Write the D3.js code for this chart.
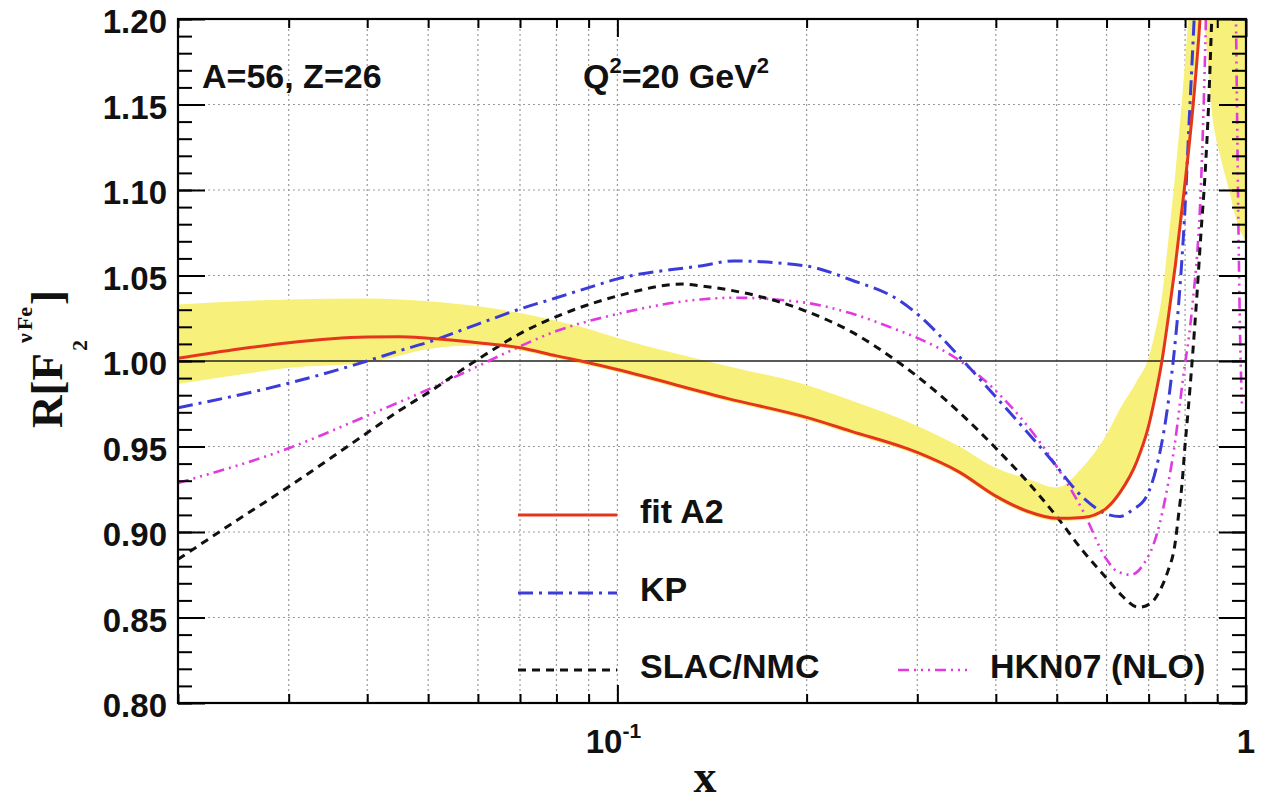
<!DOCTYPE html>
<html>
<head>
<meta charset="utf-8">
<script src="https://cdn.jsdelivr.net/npm/d3@7"></script>
<style>
  body { margin: 0; background: #fff; }
  text { font-weight: bold; fill: #111; }
  .sans { font-family: "Liberation Sans", Arial, Helvetica, sans-serif; }
  .serif { font-family: "Liberation Serif", "Times New Roman", serif; }
</style>
</head>
<body>
<svg id="chart" width="1262" height="802"></svg>
<script>
// ---------------- data ----------------
// fit A2 central curve
const fitX = [0.02, 0.025, 0.03, 0.04, 0.045, 0.05, 0.06, 0.07, 0.08, 0.09, 0.1, 0.15, 0.2, 0.235, 0.3, 0.35, 0.4, 0.45, 0.5, 0.55, 0.6, 0.63, 0.67, 0.7, 0.714, 0.735, 0.752, 0.772, 0.794, 0.824, 0.845, 0.87];
const fitY = [1.0016, 1.007, 1.0107, 1.014, 1.0142, 1.0133, 1.0107, 1.0078, 1.003, 0.999, 0.995, 0.978, 0.967, 0.959, 0.9465, 0.935, 0.921, 0.912, 0.908, 0.9085, 0.914, 0.923, 0.941, 0.962, 0.976, 1.0, 1.025, 1.056, 1.094, 1.15, 1.20, 1.29];

// fit A2 uncertainty band
const bandX    = [0.02, 0.025, 0.03, 0.04, 0.045, 0.05, 0.06, 0.07, 0.08, 0.09, 0.1, 0.15, 0.2, 0.235, 0.3, 0.35, 0.4, 0.45, 0.5, 0.55, 0.6, 0.63, 0.67, 0.7, 0.714, 0.735, 0.752, 0.772, 0.794, 0.824, 0.84, 0.852, 0.865, 0.88, 0.91, 0.94, 0.97, 1.0];
const bandLow  = [0.9865, 0.992, 0.996, 0.999, 1.003, 1.007, 1.009, 1.0063, 1.0015, 0.9975, 0.9935, 0.9765, 0.9655, 0.9575, 0.945, 0.9335, 0.9195, 0.9105, 0.9065, 0.907, 0.9125, 0.9215, 0.9395, 0.9605, 0.9745, 0.9985, 1.0235, 1.0545, 1.0925, 1.1485, 1.185, 1.205, 1.185, 1.15, 1.12, 1.10, 1.08, 1.07];
const bandHigh = [1.033, 1.035, 1.036, 1.0365, 1.036, 1.035, 1.032, 1.028, 1.0234, 1.0187, 1.0135, 0.997, 0.986, 0.977, 0.962, 0.950, 0.9374, 0.931, 0.926, 0.938, 0.957, 0.972, 0.988, 1.002, 1.014, 1.038, 1.07, 1.11, 1.16, 1.24, 1.28, 1.32, 1.36, 1.40, 1.45, 1.50, 1.55, 1.60];

// KP
const kpX = [0.02, 0.03, 0.04, 0.045, 0.05, 0.06, 0.07, 0.08, 0.09, 0.1, 0.1355, 0.153, 0.2, 0.235, 0.282, 0.3, 0.351, 0.4, 0.488, 0.551, 0.6, 0.63, 0.66, 0.695, 0.72, 0.749, 0.766, 0.78, 0.791, 0.80, 0.812, 0.827, 0.86];
const kpY = [0.9727, 0.987, 1.0, 1.006, 1.011, 1.0216, 1.0304, 1.037, 1.0429, 1.048, 1.0556, 1.0585, 1.0555, 1.0475, 1.035, 1.0275, 1.002, 0.979, 0.943, 0.92, 0.9105, 0.909, 0.913, 0.921, 0.9375, 0.971, 1.0, 1.03, 1.06, 1.09, 1.14, 1.2, 1.35];

// SLAC/NMC
const slacX = [0.02, 0.0245, 0.03, 0.04, 0.045, 0.05, 0.06, 0.07, 0.08, 0.09, 0.1, 0.1273, 0.1355, 0.2, 0.2346, 0.2818, 0.3, 0.35, 0.4, 0.45, 0.5, 0.55, 0.6, 0.63, 0.675, 0.7036, 0.73, 0.751, 0.771, 0.78, 0.791, 0.80, 0.809, 0.821, 0.836, 0.848, 0.861, 0.872, 0.882, 0.9];
const slacY = [0.884, 0.9055, 0.9265, 0.958, 0.971, 0.9815, 1.001, 1.016, 1.026, 1.033, 1.038, 1.045, 1.044, 1.029, 1.0175, 0.9985, 0.991, 0.970, 0.949, 0.929, 0.909, 0.889, 0.873, 0.864, 0.856, 0.858, 0.866, 0.877, 0.893, 0.908, 0.928, 0.951, 0.971, 1.0, 1.04, 1.075, 1.11, 1.15, 1.2, 1.3];

// HKN07 (NLO)
const hknX = [0.02, 0.03, 0.04, 0.0486, 0.0577, 0.0676, 0.08, 0.1, 0.1355, 0.153, 0.2, 0.2346, 0.2818, 0.3, 0.351, 0.4, 0.488, 0.551, 0.6, 0.6236, 0.6557, 0.6867, 0.7218, 0.7516, 0.7715, 0.7856, 0.794, 0.815, 0.824, 0.836, 0.845, 0.858, 0.87, 0.9, 0.95, 0.964, 0.971, 0.978, 0.985];
const hknY = [0.9287, 0.949, 0.968, 0.9813, 0.994, 1.006, 1.0175, 1.0275, 1.036, 1.037, 1.034, 1.028, 1.0175, 1.0135, 1.0, 0.9825, 0.944, 0.912, 0.884, 0.877, 0.875, 0.881, 0.899, 0.928, 0.953, 0.976, 0.99, 1.02, 1.037, 1.062, 1.09, 1.16, 1.25, 1.45, 1.40, 1.2, 1.1, 1.02, 0.975];

const seriesNames = ["fit A2", "KP", "SLAC/NMC", "HKN07 (NLO)"];

// axis ticks and labels
const yMajorTicks = [0.80, 0.85, 0.90, 0.95, 1.00, 1.05, 1.10, 1.15, 1.20];
const yMinorTicks = d3.range(80, 121).map(v => v / 100);
const xMajorTicks = [0.1, 1];
const xMajorBase  = ["10", "1"];
const xMajorExp   = ["-1", ""];
const xMinorTicks = [0.02, 0.03, 0.04, 0.05, 0.06, 0.07, 0.08, 0.09, 0.2, 0.3, 0.4, 0.5, 0.6, 0.7, 0.8, 0.9];
const yGridValues = [0.85, 0.90, 0.95, 1.05, 1.10, 1.15];
const xGridValues = [0.03, 0.04, 0.05, 0.06, 0.07, 0.08, 0.09, 0.1, 0.2, 0.3, 0.4, 0.5, 0.6, 0.7, 0.8, 0.9];

// ---------------- layout ----------------
const svg = d3.select("#chart");
const m = { l: 178, r: 1246, t: 19, b: 703 };

const x = d3.scaleLog().domain([0.02, 1]).range([m.l, m.r]);
const y = d3.scaleLinear().domain([0.80, 1.20]).range([m.b, m.t]);

svg.append("defs").append("clipPath").attr("id", "plotClip")
  .append("rect").attr("x", m.l).attr("y", m.t)
  .attr("width", m.r - m.l).attr("height", m.b - m.t);

// dotted grid
const grid = svg.append("g")
  .attr("stroke", "#9a9a9a").attr("stroke-width", 1.2).attr("stroke-dasharray", "2,3");
grid.selectAll("line.gv").data(xGridValues).join("line").attr("class", "gv")
  .attr("x1", d => x(d)).attr("x2", d => x(d)).attr("y1", m.t).attr("y2", m.b);
grid.selectAll("line.gh").data(yGridValues).join("line").attr("class", "gh")
  .attr("x1", m.l).attr("x2", m.r).attr("y1", d => y(d)).attr("y2", d => y(d));

const plot = svg.append("g").attr("clip-path", "url(#plotClip)");

// uncertainty band
const area = d3.area()
  .x(d => x(d[0])).y0(d => y(d[1])).y1(d => y(d[2]))
  .curve(d3.curveMonotoneX);
plot.append("path").datum(d3.zip(bandX, bandLow, bandHigh))
  .attr("fill", "#f7f07a").attr("d", area);

// unity line
plot.append("line").attr("x1", m.l).attr("x2", m.r)
  .attr("y1", y(1.0)).attr("y2", y(1.0))
  .attr("stroke", "#222").attr("stroke-width", 1.6);

const line = d3.line().x(d => x(d[0])).y(d => y(d[1])).curve(d3.curveMonotoneX);

const series = [
  { name: seriesNames[3], pts: d3.zip(hknX, hknY),   color: "#e03ae0", dash: "11,5,2,5,2,5,2,5", width: 2.6 },
  { name: seriesNames[2], pts: d3.zip(slacX, slacY), color: "#111111", dash: "8,6",             width: 3 },
  { name: seriesNames[1], pts: d3.zip(kpX, kpY),     color: "#3b3bd8", dash: "15,6,3,6",         width: 3 },
  { name: seriesNames[0], pts: d3.zip(fitX, fitY),   color: "#e5361d", dash: null,               width: 3 }
];

plot.selectAll("path.curve").data(series).join("path").attr("class", "curve")
  .attr("fill", "none")
  .attr("stroke", d => d.color)
  .attr("stroke-width", d => d.width)
  .attr("stroke-dasharray", d => d.dash)
  .attr("d", d => line(d.pts));

// legend
const legendRows = [
  { s: series[3], x0: 518, x1: 617, ly: 515, tx: 640 },
  { s: series[2], x0: 518, x1: 617, ly: 593, tx: 640 },
  { s: series[1], x0: 518, x1: 617, ly: 670, tx: 640 },
  { s: series[0], x0: 898, x1: 970, ly: 670, tx: 990 }
];
const leg = svg.append("g");
legendRows.forEach(r => {
  leg.append("line").attr("x1", r.x0).attr("x2", r.x1).attr("y1", r.ly).attr("y2", r.ly)
    .attr("stroke", r.s.color).attr("stroke-width", r.s.width)
    .attr("stroke-dasharray", r.s.dash);
  leg.append("text").attr("class", "sans").attr("x", r.tx).attr("y", r.ly + 8).attr("font-size", 34)
    .text(r.s.name);
});

// frame
svg.append("rect").attr("x", m.l).attr("y", m.t)
  .attr("width", m.r - m.l).attr("height", m.b - m.t)
  .attr("fill", "none").attr("stroke", "#000").attr("stroke-width", 2.2);

// axes (ticks pointing inward)
function styleAxis(g) {
  g.select(".domain").remove();
  g.selectAll(".tick line").attr("stroke", "#000").attr("stroke-width", 2);
}
svg.append("g").attr("transform", `translate(${m.l},0)`)
  .call(d3.axisLeft(y).tickValues(yMinorTicks).tickSizeInner(-14).tickSizeOuter(0).tickFormat(""))
  .call(styleAxis);
svg.append("g").attr("transform", `translate(${m.l},0)`)
  .call(d3.axisLeft(y).tickValues(yMajorTicks).tickSizeInner(-27).tickSizeOuter(0)
        .tickPadding(11).tickFormat(d3.format(".2f")))
  .call(styleAxis)
  .call(g => g.selectAll("text").attr("class", "sans").attr("font-size", 33).attr("dy", "0.42em")
              .attr("fill", "#111"));
svg.append("g").attr("transform", `translate(${m.r},0)`)
  .call(d3.axisRight(y).tickValues(yMinorTicks).tickSizeInner(-14).tickSizeOuter(0).tickFormat(""))
  .call(styleAxis);
svg.append("g").attr("transform", `translate(${m.r},0)`)
  .call(d3.axisRight(y).tickValues(yMajorTicks).tickSizeInner(-27).tickSizeOuter(0).tickFormat(""))
  .call(styleAxis);
svg.append("g").attr("transform", `translate(0,${m.b})`)
  .call(d3.axisBottom(x).tickValues(xMinorTicks).tickSizeInner(-9).tickSizeOuter(0).tickFormat(""))
  .call(styleAxis);
svg.append("g").attr("transform", `translate(0,${m.b})`)
  .call(d3.axisBottom(x).tickValues(xMajorTicks).tickSizeInner(-18).tickSizeOuter(0).tickFormat(""))
  .call(styleAxis);
svg.append("g").attr("transform", `translate(0,${m.t})`)
  .call(d3.axisTop(x).tickValues(xMinorTicks).tickSizeInner(-9).tickSizeOuter(0).tickFormat(""))
  .call(styleAxis);
svg.append("g").attr("transform", `translate(0,${m.t})`)
  .call(d3.axisTop(x).tickValues(xMajorTicks).tickSizeInner(-18).tickSizeOuter(0).tickFormat(""))
  .call(styleAxis);

// x tick labels with exponents
xMajorTicks.forEach((v, i) => {
  const t = svg.append("text").attr("class", "sans")
    .attr("x", x(v) - (xMajorExp[i] ? 4 : 0)).attr("y", m.b + 50)
    .attr("text-anchor", "middle").attr("font-size", 33);
  t.append("tspan").text(xMajorBase[i]);
  if (xMajorExp[i]) t.append("tspan").attr("dy", -15).attr("font-size", 21).text(xMajorExp[i]);
});

// axis titles
svg.append("text").attr("class", "serif").attr("x", 705).attr("y", 792).attr("text-anchor", "middle")
  .attr("font-size", 46).text("x");

const yt = svg.append("g").attr("transform", "translate(62,359) rotate(-90)");
const tMain = yt.append("text").attr("class", "serif").attr("font-size", 45).attr("y", 0).text("R[F");
const wMain = tMain.node().getComputedTextLength();
yt.append("text").attr("class", "serif").attr("font-size", 22).attr("y", 25).attr("x", wMain + 2).text("2");
const tSup = yt.append("text").attr("class", "serif").attr("font-size", 22).attr("y", -30).attr("x", wMain + 10);
tSup.append("tspan").text("ν");
tSup.append("tspan").attr("dx", 3).text("Fe");
const wSup = tSup.node().getComputedTextLength() + 3;
const tEnd = yt.append("text").attr("class", "serif").attr("font-size", 45).attr("y", 0)
  .attr("x", wMain + 10 + wSup + 2).text("]");
const total = wMain + 10 + wSup + 2 + tEnd.node().getComputedTextLength();
yt.selectAll("text").each(function () {
  const el = d3.select(this);
  el.attr("x", (+el.attr("x") || 0) - total / 2);
});

// annotations
svg.append("text").attr("class", "sans").attr("x", 202).attr("y", 88).attr("font-size", 34).text("A=56, Z=26");
const q = svg.append("text").attr("class", "sans").attr("x", 583).attr("y", 88).attr("font-size", 34);
q.append("tspan").text("Q");
q.append("tspan").attr("dy", -15).attr("font-size", 22).text("2");
q.append("tspan").attr("dy", 15).text("=20 GeV");
q.append("tspan").attr("dy", -15).attr("font-size", 22).text("2");
</script>
</body>
</html>
